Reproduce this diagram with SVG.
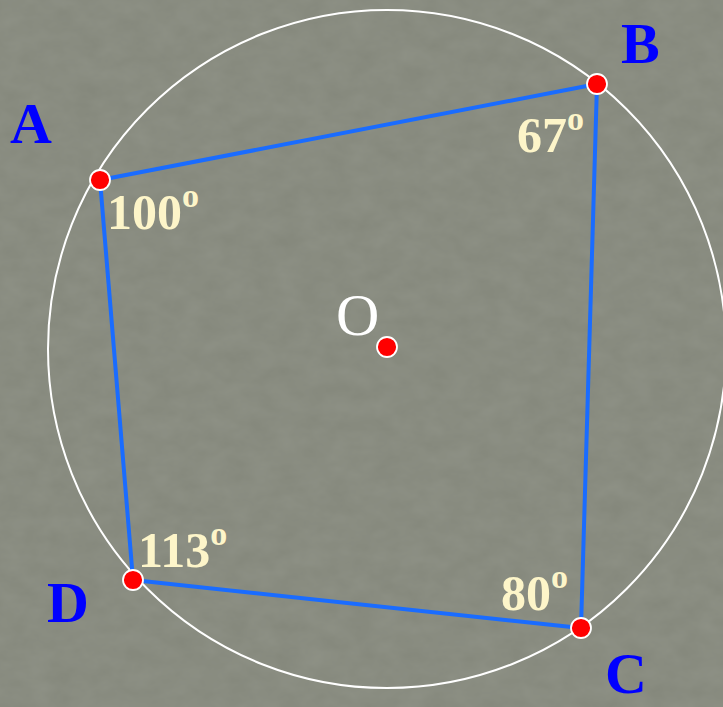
<svg xmlns="http://www.w3.org/2000/svg" width="723" height="707" viewBox="0 0 723 707">
<defs>
<filter id="tex" x="0" y="0" width="100%" height="100%">
<feTurbulence type="fractalNoise" baseFrequency="0.04 0.06" numOctaves="3" seed="3" result="n"/>
<feColorMatrix in="n" type="matrix" values="0 0 0 0 0.5  0 0 0 0 0.52  0 0 0 0 0.47  0 0 0 0.18 0"/>
</filter>
<style>
.bg{fill:#84877b}
.circ{fill:none;stroke:#ffffff;stroke-width:2}
.edge{stroke:#1a6cff;stroke-width:4;fill:none;stroke-linecap:round}
.dot{fill:#ff0000;stroke:#ffffff;stroke-width:1.8}
.vlab{font-family:"Liberation Serif","Times New Roman",serif;font-weight:bold;font-size:58px;fill:#0000ff}
.ang{font-family:"Liberation Serif","Times New Roman",serif;font-weight:bold;font-size:50px;fill:#fdf5c9}
.deg{font-size:34px}
.olab{font-family:"Liberation Serif","Times New Roman",serif;font-size:60px;fill:#ffffff}
</style>
</defs>
<rect class="bg" x="0" y="0" width="723" height="707"/>
<rect x="0" y="0" width="723" height="707" filter="url(#tex)"/>
<circle id="circle" class="circ" cx="387" cy="349" r="339"/>
<g id="connectors">
<line class="edge" x1="100" y1="180" x2="597" y2="84"/>
<line class="edge" x1="597" y1="84" x2="581" y2="628"/>
<line class="edge" x1="581" y1="628" x2="133" y2="580"/>
<line class="edge" x1="133" y1="580" x2="100" y2="180"/>
</g>
<g id="nodeA">
<circle class="dot" cx="100" cy="180" r="10"/>
<text class="vlab" x="10" y="143">A</text>
<text class="ang" x="107" y="229">100<tspan class="deg" dy="-22">o</tspan></text>
</g>
<g id="nodeB">
<circle class="dot" cx="597" cy="84" r="10"/>
<text class="vlab" x="621" y="63">B</text>
<text class="ang" x="517" y="152">67<tspan class="deg" dy="-22">o</tspan></text>
</g>
<g id="nodeC">
<circle class="dot" cx="581" cy="628" r="10"/>
<text class="vlab" x="605" y="693">C</text>
<text class="ang" x="501" y="610">80<tspan class="deg" dy="-22">o</tspan></text>
</g>
<g id="nodeD">
<circle class="dot" cx="133" cy="580" r="10"/>
<text class="vlab" x="47" y="622">D</text>
<text class="ang" x="138" y="567">113<tspan class="deg" dy="-22">o</tspan></text>
</g>
<g id="nodeO">
<circle class="dot" cx="387" cy="347" r="10"/>
<text class="olab" x="336" y="335">O</text>
</g>
</svg>
